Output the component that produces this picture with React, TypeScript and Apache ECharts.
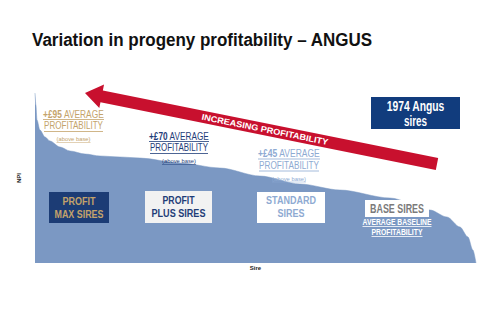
import React, { useEffect, useRef } from "react";
import * as echarts from "echarts";

// Sire rank (0 = best of 1974 sires) and progeny NPI profile (relative units)
const sireRank = [0, 4, 9, 22, 45, 67, 112, 157, 224, 291, 380, 470, 649, 828, 1007, 1186, 1365, 1589, 1768, 1844, 1902, 1938, 1960, 1974];
const npiValues = [170, 158, 143, 133, 126, 122, 116, 112, 109, 107, 106, 105, 100, 95, 87, 79, 73, 65, 53, 46, 36, 26, 13, 0];

const titleText = "Variation in progeny profitability \u2013 ANGUS";
const groupBoxes = [
  { lines: ["PROFIT", "MAX SIRES"] },
  { lines: ["PROFIT", "PLUS SIRES"] },
  { lines: ["STANDARD", "SIRES"] },
  { lines: ["BASE SIRES"] },
];
const avgLabels = ["+\u00a395", "+\u00a370", "+\u00a345"];
const totalSires = 1974;

const SANS = '"Liberation Sans", Arial, sans-serif';

const GOLD = "#c4a36b";
const NAVY = "#1f3d78";
const LIGHT = "#8eaad2";
const GREY = "#7a7a7a";
const AREA = "#7b98c3";
const RED = "#c8102e";

let measureCtx: CanvasRenderingContext2D | null = null;
function measure(text: string, font: string) {
  if (!measureCtx) measureCtx = document.createElement("canvas").getContext("2d");
  measureCtx!.font = font;
  return measureCtx!.measureText(text).width;
}

function arrowPoints(tip: number[], end: number[], headLen: number, headHalf: number, shaftHalf: number) {
  const dx = tip[0] - end[0];
  const dy = tip[1] - end[1];
  const len = Math.hypot(dx, dy);
  const ux = dx / len, uy = dy / len;
  const nx = uy, ny = -ux;
  const bx = tip[0] - ux * headLen, by = tip[1] - uy * headLen;
  return [
    tip,
    [bx + nx * headHalf, by + ny * headHalf],
    [bx + nx * shaftHalf, by + ny * shaftHalf],
    [end[0] + nx * shaftHalf, end[1] + ny * shaftHalf],
    [end[0] - nx * shaftHalf, end[1] - ny * shaftHalf],
    [bx - nx * shaftHalf, by - ny * shaftHalf],
    [bx - nx * headHalf, by - ny * headHalf],
  ];
}

// text fitted horizontally to a target width (emulates a condensed face)
function txt(x: number, y: number, text: string, fill: string, font: string, width: number, align = "center") {
  const w = measure(text, font);
  return {
    type: "text",
    x,
    y,
    z: 10,
    scaleX: width / w,
    style: { text, fill, font, textAlign: align, textVerticalAlign: "middle" },
  };
}
function uline(x1: number, x2: number, y: number, stroke: string, w = 0.8) {
  return { type: "line", z: 10, shape: { x1, y1: y, x2, y2: y }, style: { stroke, lineWidth: w } };
}

function avgBlock(cx: number, y: number, label: string, color: string, w1: number, w2: number) {
  const fb = `bold 10.5px ${SANS}`;
  const fr = `10.5px ${SANS}`;
  const mw = measure(label, fb) + measure(" AVERAGE", fr);
  return [
    {
      type: "text",
      x: cx,
      y,
      z: 10,
      scaleX: w1 / mw,
      style: {
        text: `{b|${label}}{r| AVERAGE}`,
        textAlign: "center",
        textVerticalAlign: "middle",
        rich: {
          b: { fill: color, font: fb },
          r: { fill: color, font: fr },
        },
      },
    },
    uline(cx - w1 / 2, cx + w1 / 2, y + 5.5, color),
    txt(cx, y + 12, "PROFITABILITY", color, fr, w2),
    uline(cx - w2 / 2, cx + w2 / 2, y + 17.5, color),
    txt(cx, y + 25, "(above base)", color, `6px ${SANS}`, 34),
    uline(cx - 17, cx + 17, y + 28.5, color, 0.5),
  ];
}

export default function App() {
  const ref = useRef<HTMLDivElement>(null);
  useEffect(() => {
    if (!ref.current) return;
    const chart = echarts.init(ref.current, null, { renderer: "svg" });
    const arrow = arrowPoints([85, 93], [437, 164], 17, 12, 6);
    const angle = Math.atan2(164 - 93, 437 - 85);
    const bf = `bold 11px ${SANS}`;
    const option: any = {
      animation: false,
      backgroundColor: "#ffffff",
      grid: { left: 35, right: 9, top: 93, bottom: 46 },
      xAxis: {
        type: "value",
        min: 0,
        max: totalSires,
        name: "Sire",
        nameLocation: "middle",
        nameGap: 2,
        nameTextStyle: { fontSize: 6, fontWeight: "bold", color: "#222", fontFamily: SANS },
        axisLine: { show: false },
        axisTick: { show: false },
        axisLabel: { show: false },
        splitLine: { show: false },
      },
      yAxis: {
        type: "value",
        min: 0,
        max: 170,
        name: "NPI",
        nameLocation: "middle",
        nameGap: 13,
        nameRotate: 90,
        nameTextStyle: { fontSize: 6, fontWeight: "bold", color: "#222", fontFamily: SANS },
        axisLine: { show: false },
        axisTick: { show: false },
        axisLabel: { show: false },
        splitLine: { show: false },
      },
      series: [
        {
          type: "line",
          data: sireRank.map((r, i) => [r, npiValues[i]]),
          smooth: 0.3,
          smoothMonotone: "x",
          symbol: "none",
          lineStyle: { width: 0.5, color: AREA },
          areaStyle: { color: AREA, opacity: 1 },
        },
      ],
      graphic: [
        txt(32, 40, titleText, "#111111", `bold 18.5px ${SANS}`, 341, "left"),
        { type: "polygon", z: 5, shape: { points: arrow }, style: { fill: RED } },
        {
          type: "text",
          x: 265,
          y: 129.5,
          rotation: -angle,
          z: 11,
          scaleX: 129 / measure("INCREASING PROFITABILITY", `bold 8.5px ${SANS}`),
          style: {
            text: "INCREASING PROFITABILITY",
            fill: "#ffffff",
            font: `bold 8.5px ${SANS}`,
            textAlign: "center",
            textVerticalAlign: "middle",
          },
        },
        { type: "rect", z: 6, shape: { x: 371, y: 97, width: 89, height: 32 }, style: { fill: "#113c7d" } },
        txt(415.5, 106.5, `${totalSires} Angus`, "#ffffff", `bold 14px ${SANS}`, 58),
        txt(415.5, 121, "sires", "#ffffff", `bold 14px ${SANS}`, 23),
        ...avgBlock(73.5, 114, avgLabels[0], GOLD, 61, 59),
        ...avgBlock(179, 136, avgLabels[1], NAVY, 60, 58),
        ...avgBlock(289, 153.5, avgLabels[2], LIGHT, 62, 60),
        { type: "rect", z: 6, shape: { x: 49, y: 192, width: 60, height: 31 }, style: { fill: "#1c3c75" } },
        txt(79, 201.5, groupBoxes[0].lines[0], GOLD, bf, 33),
        txt(79, 214, groupBoxes[0].lines[1], GOLD, bf, 49),
        { type: "rect", z: 6, shape: { x: 145, y: 191, width: 67, height: 32 }, style: { fill: "#f2f2f2" } },
        txt(178.5, 200.5, groupBoxes[1].lines[0], NAVY, bf, 32),
        txt(178.5, 213, groupBoxes[1].lines[1], NAVY, bf, 54),
        { type: "rect", z: 6, shape: { x: 257, y: 192, width: 68, height: 31 }, style: { fill: "#ffffff" } },
        txt(291, 200.5, groupBoxes[2].lines[0], LIGHT, bf, 50),
        txt(291, 213.5, groupBoxes[2].lines[1], LIGHT, bf, 27),
        { type: "rect", z: 6, shape: { x: 365, y: 200, width: 64, height: 17 }, style: { fill: "#ffffff" } },
        txt(397, 208.5, groupBoxes[3].lines[0], GREY, `bold 12px ${SANS}`, 54),
        txt(397, 222, "AVERAGE BASELINE", "#ffffff", `bold 9px ${SANS}`, 69),
        uline(362.5, 431.5, 226.5, "#ffffff"),
        txt(397, 232, "PROFITABILITY", "#ffffff", `bold 9px ${SANS}`, 51),
        uline(371.5, 422.5, 236.5, "#ffffff"),
      ],
    };
    chart.setOption(option);
    return () => chart.dispose();
  }, []);
  return (
    <div
      ref={ref}
      style={{ position: "fixed", left: 0, top: 0, width: 485, height: 309, background: "#fff" }}
    />
  );
}
